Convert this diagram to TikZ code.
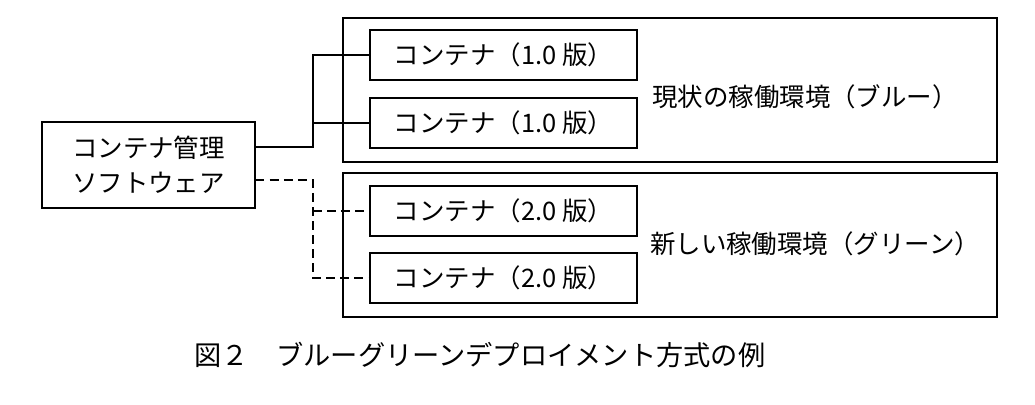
\documentclass[tikz,border=0pt]{standalone}
\usepackage{fontspec}
\setmainfont{Noto Sans CJK JP}
\usetikzlibrary{positioning}
\begin{document}
\begin{tikzpicture}[x=0.02cm,y=-0.02cm,
    box/.style={draw, thick, minimum width=5.34cm, minimum height=1cm},
    env/.style={draw, thick, minimum width=13.08cm, minimum height=2.88cm},
    link/.style={thick},
    font=\fontsize{14.5}{20}\selectfont]
    \useasboundingbox (0,0) rectangle (1035,405);

    % Umgebungen
    \node[env] (blue) at (670,90) {};
    \node[env] (green) at (670,245) {};
    \node at (805,97) {現状の稼働環境（ブルー）};
    \node at (815,244) {新しい稼働環境（グリーン）};

    % Container
    \node[box] (c1) at (503.5,55) {コンテナ（1.0 版）};
    \node[box] (c2) at (503.5,123) {コンテナ（1.0 版）};
    \node[box] (c3) at (503.5,211) {コンテナ（2.0 版）};
    \node[box] (c4) at (503.5,278) {コンテナ（2.0 版）};

    % Verwaltung
    \node[draw, thick, minimum width=4.26cm, minimum height=1.72cm, align=center]
        (mgr) at (148.5,165) {コンテナ管理\\ソフトウェア};
    \coordinate (s) at (mgr.east |- 0,147);
    \coordinate (d) at (mgr.east |- 0,180);

    % Linien
    \draw[link] (s) -| (313,123) |- (c1.west);
    \draw[link] (313,123) -- (c2.west);
    \draw[link, dash pattern=on 5pt off 3pt] (d) -| (313,211) |- (c4.west);
    \draw[link, dash pattern=on 5pt off 3pt] (313,211) -- (c3.west);

    % Bildunterschrift
    \node[font=\fontsize{15.5}{20}\selectfont] (cap) at (480,355) {図２　ブルーグリーンデプロイメント方式の例};
\end{tikzpicture}
\end{document}
